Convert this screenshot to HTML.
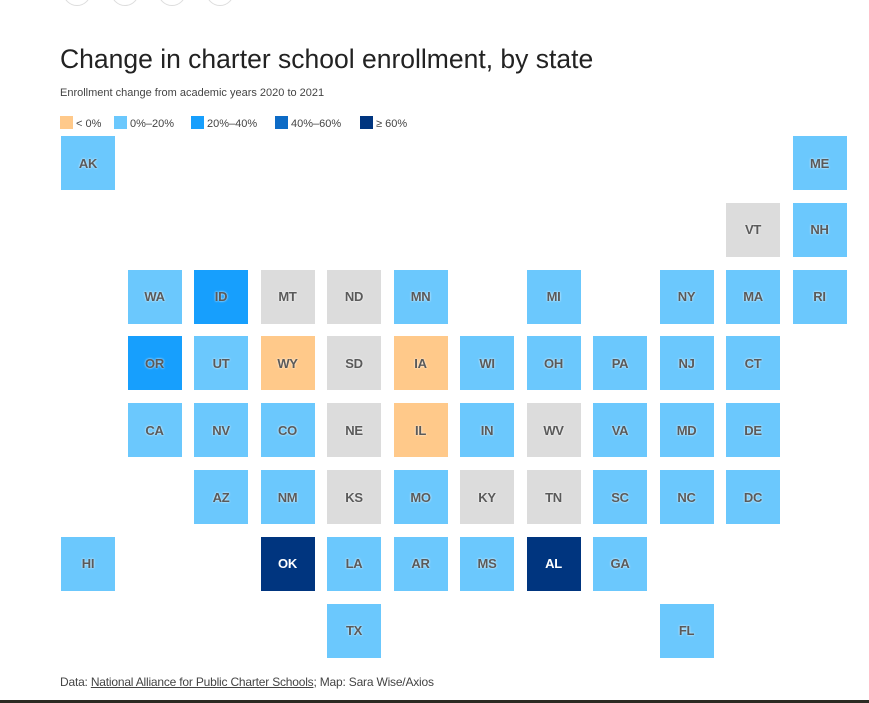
<!DOCTYPE html>
<html><head><meta charset="utf-8"><style>
body{margin:0;width:869px;height:703px;background:#fff;font-family:"Liberation Sans",sans-serif;position:relative;overflow:hidden}
.t{position:absolute;color:#333}
.tile{position:absolute;width:54px;height:54px;display:flex;align-items:center;justify-content:center;font-size:13px;font-weight:bold;color:#5a5a5a;letter-spacing:-0.3px;text-shadow:0 0 2px #fff}
.tile.dk{color:#fff;text-shadow:none}
.sw{display:inline-block;width:13px;height:13px;vertical-align:-2px;margin-right:3px}
.lg{position:absolute;top:116px;font-size:11px;color:#444}
.circ{position:absolute;top:-22px;width:26px;height:26px;border:1px solid #ddd;border-radius:50%}
</style></head><body>
<div class="circ" style="left:63px"></div>
<div class="circ" style="left:111px"></div>
<div class="circ" style="left:158px"></div>
<div class="circ" style="left:206px"></div>
<div class="t" style="left:60px;top:44px;font-size:26.5px;color:#222">Change in charter school enrollment, by state</div>
<div class="t" style="left:60px;top:87px;font-size:11px;color:#444">Enrollment change from academic years 2020 to 2021</div>
<div class="lg" style="left:60px"><span class="sw" style="background:#ffc98a"></span>&lt; 0%</div>
<div class="lg" style="left:114px"><span class="sw" style="background:#6bc8fd"></span>0%–20%</div>
<div class="lg" style="left:191px"><span class="sw" style="background:#179ffd"></span>20%–40%</div>
<div class="lg" style="left:275px"><span class="sw" style="background:#0d6bc6"></span>40%–60%</div>
<div class="lg" style="left:360px"><span class="sw" style="background:#00357f"></span>≥ 60%</div>
<div id="map"></div>
<div class="t" style="left:60px;top:675px;font-size:12px;color:#444;letter-spacing:-0.2px">Data: <span style="text-decoration:underline">National Alliance for Public Charter Schools</span>; Map: Sara Wise/Axios</div>
<div style="position:absolute;left:0;top:700px;width:869px;height:3px;background:#2b2a22"></div>
<script>
const states=["AK","ME","VT","NH","WA","ID","MT","ND","MN","MI","NY","MA","RI","OR","UT","WY","SD","IA","WI","OH","PA","NJ","CT","CA","NV","CO","NE","IL","IN","WV","VA","MD","DE","AZ","NM","KS","MO","KY","TN","SC","NC","DC","HI","OK","LA","AR","MS","AL","GA","TX","FL"];
const cols=[0,11,10,11,1,2,3,4,5,7,9,10,11,1,2,3,4,5,6,7,8,9,10,1,2,3,4,5,6,7,8,9,10,2,3,4,5,6,7,8,9,10,0,3,4,5,6,7,8,4,9];
const rows=[0,0,1,1,2,2,2,2,2,2,2,2,2,3,3,3,3,3,3,3,3,3,3,4,4,4,4,4,4,4,4,4,4,5,5,5,5,5,5,5,5,5,6,6,6,6,6,6,6,7,7];
// category: -1 no data, 0 <0%, 1 0-20, 2 20-40, 3 40-60, 4 >=60
const cats=[1,1,-1,1,1,2,-1,-1,1,1,1,1,1,2,1,0,-1,0,1,1,1,1,1,1,1,1,-1,0,1,-1,1,1,1,1,1,-1,1,-1,-1,1,1,1,1,4,1,1,1,4,1,1,1];
const palette={"-1":"#dcdcdc","0":"#ffc98a","1":"#6bc8fd","2":"#179ffd","3":"#0d6bc6","4":"#00357f"};
const x=c=>61+c*66.5, y=r=>136+r*66.8;
const map=document.getElementById('map');
states.forEach((s,i)=>{
 const d=document.createElement('div');
 d.className='tile'+(cats[i]>=3?' dk':'');
 
 
 d.style.left=x(cols[i])+'px';d.style.top=y(rows[i])+'px';
 d.style.background=palette[cats[i]];
 d.textContent=s;map.appendChild(d);
});
</script>
</body></html>
